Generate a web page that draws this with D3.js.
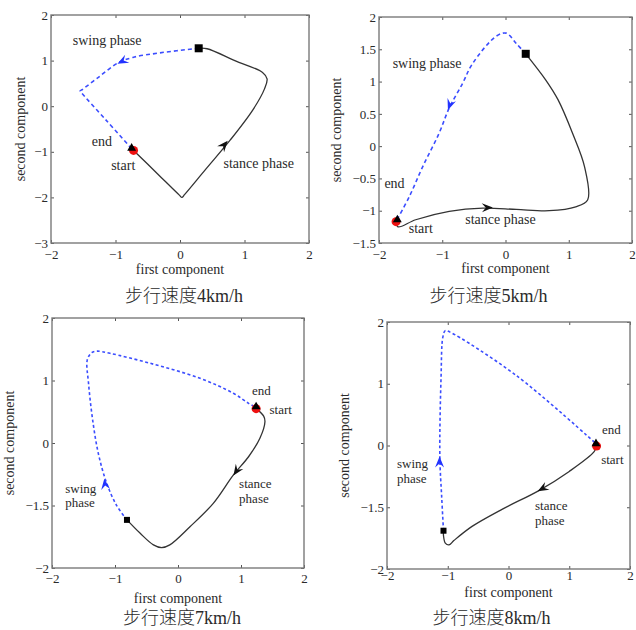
<!DOCTYPE html>
<html>
<head>
<meta charset="utf-8">
<script src="https://cdn.jsdelivr.net/npm/d3@7"></script>
<style>
  body { margin: 0; background: #fff; }
  text { font-family: "Liberation Serif", "Noto Sans CJK SC", serif; fill: #2a2a2a; }
</style>
</head>
<body>
<svg width="636" height="630"></svg>
<script>
const svg = d3.select('svg');

// shared ticks
const xTicks = [-2, -1, 0, 1, 2];
const yTicks4 = [-3, -2, -1, 0, 1, 2];
const yTicks5 = [-1.5, -1, -0.5, 0, 0.5, 1, 1.5, 2];
const yTicks78 = [-2, -1, 0, 1, 2];
const yTickLabels78 = ['−2', '−1.5', '0', '1', '2'];

// 4 km/h
const stance4 = [[-0.72, -0.97], [-0.35, -1.48], [-0.01, -1.95], [0.03, -2.0], [0.07, -1.94],
  [0.4, -1.38], [0.78, -0.74], [1.13, -0.08], [1.31, 0.38], [1.35, 0.6], [1.28, 0.74],
  [0.85, 1.0], [0.42, 1.26], [0.29, 1.27]];
const swing4 = [[0.29, 1.27], [-0.31, 1.17], [-0.73, 1.07], [-0.96, 0.95], [-1.26, 0.64],
  [-1.51, 0.37], [-1.55, 0.33], [-1.52, 0.28], [-1.15, -0.3], [-0.75, -0.93]];
const arrows4 = [[0.74, -0.76, 0.3, 0.5, 'stance'], [-0.97, 0.93, -0.3, -0.22, 'swing']];
const marks4 = {start: [-0.72, -0.97], end: [-0.75, -0.92], square: [0.29, 1.27]};
const labels4 = [['swing phase', -1.13, 1.34, 'middle'], ['end', -1.21, -0.87, 'middle'],
  ['start', -0.88, -1.4, 'middle'], ['stance phase', 1.22, -1.36, 'middle']];

// 5 km/h
const stance5 = [[-1.73, -1.17], [-1.7, -1.25], [-1.42, -1.14], [-0.89, -1.01], [-0.36, -0.96],
  [0.17, -0.98], [0.69, -1.0], [1.11, -0.94], [1.3, -0.83], [1.25, -0.32], [1.06, 0.2],
  [0.83, 0.72], [0.64, 1.02], [0.32, 1.43]];
const swing5 = [[0.32, 1.43], [0.17, 1.59], [0.01, 1.75], [-0.15, 1.7], [-0.52, 1.28],
  [-0.68, 0.97], [-0.89, 0.59], [-1.05, 0.2], [-1.31, -0.32], [-1.52, -0.78], [-1.72, -1.15]];
const arrows5 = [[-0.2, -0.95, 1, 0.02, 'stance'], [-0.91, 0.56, -0.15, -0.4, 'swing']];
const marks5 = {start: [-1.73, -1.17], end: [-1.71, -1.14], square: [0.32, 1.43]};
const labels5 = [['swing phase', -1.24, 1.21, 'middle'], ['end', -1.755, -0.65, 'middle'],
  ['start', -1.34, -1.34, 'middle'], ['stance phase', -0.08, -1.2, 'middle']];

// 7 km/h
const stance7 = [[1.24, 0.55], [1.36, 0.43], [1.38, 0.34], [1.3, 0.075], [1.12, -0.22],
  [0.88, -0.51], [0.56, -0.965], [0.19, -1.34], [-0.13, -1.63], [-0.26, -1.675],
  [-0.39, -1.63], [-0.6, -1.445], [-0.81, -1.23]];
const swing7 = [[-0.81, -1.23], [-0.98, -0.99], [-1.14, -0.62], [-1.265, -0.165], [-1.355, 0.37],
  [-1.42, 0.955], [-1.44, 1.33], [-1.37, 1.445], [-1.29, 1.47], [-1.08, 1.435], [-0.44, 1.275],
  [0.35, 1.035], [0.88, 0.795], [1.12, 0.635], [1.24, 0.57]];
const arrows7 = [[0.88, -0.52, -0.3, -0.45, 'stance'], [-1.17, -0.57, -0.05, 0.4, 'swing']];
const marks7 = {start: [1.24, 0.55], end: [1.24, 0.58], square: [-0.81, -1.23]};
const labels7 = [['end', 1.325, 0.77, 'middle'], ['start', 1.63, 0.465, 'middle'],
  ['stance', 0.97, -0.72, 'start'], ['phase', 0.97, -0.96, 'start'],
  ['swing', -1.79, -0.8, 'start'], ['phase', -1.79, -1.02, 'start']];

// 8 km/h
const stance8 = [[1.45, -0.01], [1.41, -0.1], [1.0, -0.42], [0.5, -0.73], [-0.1, -1.03],
  [-0.6, -1.31], [-0.9, -1.54], [-0.98, -1.61], [-1.04, -1.58], [-1.07, -1.46], [-1.07, -1.38]];
const swing8 = [[-1.07, -1.38], [-1.1, -0.83], [-1.13, -0.18], [-1.11, 1.11], [-1.08, 1.76],
  [-1.04, 1.86], [-0.97, 1.84], [0.12, 1.14], [1.44, 0.03]];
const arrows8 = [[0.48, -0.74, -0.5, -0.27, 'stance'], [-1.135, -0.18, 0, 1, 'swing']];
const marks8 = {start: [1.45, -0.01], end: [1.44, 0.03], square: [-1.07, -1.38]};
const labels8 = [['end', 1.695, 0.19, 'middle'], ['start', 1.71, -0.3, 'middle'],
  ['stance', 0.436, -1.05, 'start'], ['phase', 0.436, -1.29, 'start'],
  ['swing', -1.835, -0.36, 'start'], ['phase', -1.835, -0.61, 'start']];

const captions = ['步行速度4km/h', '步行速度5km/h', '步行速度7km/h', '步行速度8km/h'];

const panels = [
  {box: [51, 15, 309, 243], yDomain: [-3, 2], yTicks: yTicks4, yLabels: null,
   stance: stance4, swing: swing4, arrows: arrows4, marks: marks4, labels: labels4,
   fs: 14, sq: 8, dash: '4,3', xtick: 16, xtitle: 31, ytitle: 26, capY: 302},
  {box: [379, 17, 632, 243], yDomain: [-1.5, 2], yTicks: yTicks5, yLabels: null,
   stance: stance5, swing: swing5, arrows: arrows5, marks: marks5, labels: labels5,
   fs: 14, sq: 8, dash: '4,3', xtick: 16, xtitle: 30, ytitle: 38, capY: 302},
  {box: [52, 318, 304, 568], yDomain: [-2, 2], yTicks: yTicks78, yLabels: yTickLabels78,
   stance: stance7, swing: swing7, arrows: arrows7, marks: marks7, labels: labels7,
   fs: 13, sq: 6, dash: '3,2.5', xtick: 15, xtitle: 35, ytitle: 38, capY: 624},
  {box: [387, 322, 630, 569], yDomain: [-2, 2], yTicks: yTicks78, yLabels: yTickLabels78,
   stance: stance8, swing: swing8, arrows: arrows8, marks: marks8, labels: labels8,
   fs: 13, sq: 6, dash: '3,2.5', xtick: 11, xtitle: 28, ytitle: 38, capY: 624}
];

const arrowPath = 'M0,0 L-11,-4.5 L-7,0 L-11,4.5 Z';

panels.forEach((p, i) => {
  const [x0, y0, x1, y1] = p.box;
  const x = d3.scaleLinear().domain([-2, 2]).range([x0, x1]);
  const y = d3.scaleLinear().domain(p.yDomain).range([y1, y0]);
  const g = svg.append('g');

  const fmt = p.yLabels ? (d, k) => p.yLabels[k] : d3.format('');

  // axes: ticks pointing inward on all four sides
  const styleAxis = sel => {
    sel.select('.domain').remove();
    sel.selectAll('line').attr('stroke', '#555');
    sel.selectAll('text').style('font-size', '13px').attr('fill', '#2a2a2a');
  };
  g.append('g').attr('transform', `translate(0,${y1})`)
    .call(d3.axisBottom(x).tickValues(xTicks).tickSize(-3).tickPadding(p.xtick - 9).tickFormat(d3.format('')))
    .call(styleAxis);
  g.append('g').attr('transform', `translate(0,${y0})`)
    .call(d3.axisTop(x).tickValues(xTicks).tickSize(-3).tickFormat(''))
    .call(styleAxis);
  g.append('g').attr('transform', `translate(${x0},0)`)
    .call(d3.axisLeft(y).tickValues(p.yTicks).tickSize(-3).tickPadding(3).tickFormat(fmt))
    .call(styleAxis);
  g.append('g').attr('transform', `translate(${x1},0)`)
    .call(d3.axisRight(y).tickValues(p.yTicks).tickSize(-3).tickFormat(''))
    .call(styleAxis);

  g.append('rect')
    .attr('x', x0).attr('y', y0)
    .attr('width', x1 - x0).attr('height', y1 - y0)
    .attr('fill', 'none').attr('stroke', '#7a7a7a').attr('stroke-width', 1.4);

  g.append('text')
    .attr('x', (x0 + x1) / 2).attr('y', y1 + p.xtitle)
    .attr('text-anchor', 'middle').style('font-size', '14px')
    .text('first component');
  g.append('text')
    .attr('transform', `translate(${x0 - p.ytitle},${(y0 + y1) / 2}) rotate(-90)`)
    .attr('text-anchor', 'middle').style('font-size', '14px')
    .text('second component');

  const line = d3.line()
    .x(d => x(d[0])).y(d => y(d[1]))
    .curve(d3.curveCatmullRom.alpha(0.5));

  g.append('path').attr('d', line(p.swing))
    .attr('fill', 'none').attr('stroke', '#3b4dff')
    .attr('stroke-width', 1.6).attr('stroke-dasharray', p.dash);
  g.append('path').attr('d', line(p.stance))
    .attr('fill', 'none').attr('stroke', '#333').attr('stroke-width', 1.3);

  g.selectAll('.arrow').data(p.arrows).enter().append('path')
    .attr('class', 'arrow')
    .attr('d', arrowPath)
    .attr('fill', d => d[4] === 'swing' ? '#2233ff' : '#111')
    .attr('transform', d => {
      const px = x(d[0]), py = y(d[1]);
      const ang = Math.atan2(y(d[1] + d[3]) - py, x(d[0] + d[2]) - px) * 180 / Math.PI;
      return `translate(${px},${py}) rotate(${ang})`;
    });

  const m = p.marks;
  g.append('circle')
    .attr('cx', x(m.start[0])).attr('cy', y(m.start[1])).attr('r', 4.5)
    .attr('fill', '#ee1111');
  g.append('path')
    .attr('d', d3.symbol(d3.symbolTriangle, 34)())
    .attr('transform', `translate(${x(m.end[0])},${y(m.end[1])})`)
    .attr('fill', '#000');
  g.append('rect')
    .attr('x', x(m.square[0]) - p.sq / 2).attr('y', y(m.square[1]) - p.sq / 2)
    .attr('width', p.sq).attr('height', p.sq)
    .attr('fill', '#000');

  g.selectAll('.lbl').data(p.labels).enter().append('text')
    .attr('class', 'lbl')
    .attr('x', d => x(d[1])).attr('y', d => y(d[2]))
    .attr('text-anchor', d => d[3])
    .style('font-size', p.fs + 'px')
    .text(d => d[0]);

  svg.append('text')
    .attr('x', (x0 + x1) / 2 + (i % 2 === 0 ? 4 : -17))
    .attr('y', p.capY)
    .attr('text-anchor', 'middle')
    .style('font-size', '18px').style('font-weight', 300)
    .attr('fill', '#444')
    .text(captions[i]);
});
</script>
</body>
</html>
